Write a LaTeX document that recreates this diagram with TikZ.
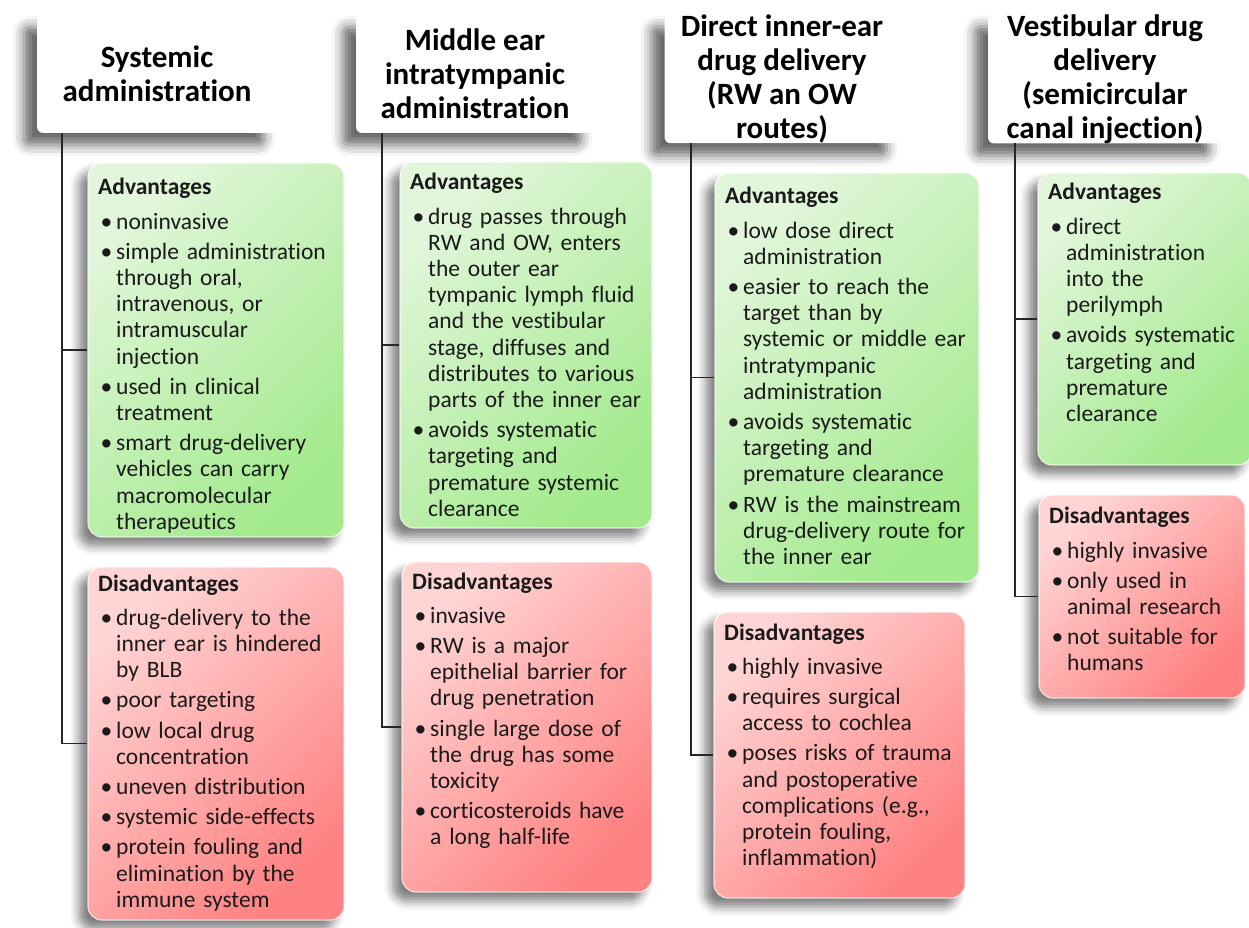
\documentclass[tikz,border=0pt]{standalone}
\usepackage{fontspec}
\setmainfont{Carlito}[Ligatures=NoCommon]
\usetikzlibrary{shadows.blur}

\definecolor{gA}{HTML}{E1F6DA}
\definecolor{gB}{HTML}{A3EA8D}
\definecolor{rA}{HTML}{FFD4D4}
\definecolor{rB}{HTML}{FF8282}
\definecolor{ink}{HTML}{1A1A1A}

% one bulleted entry, every line indented past the bullet
\newcommand{\itm}[1]{\par\vspace{4pt}{\leftskip=18pt\noindent\llap{\makebox[18pt][l]{\hspace{2.5pt}\textbullet}}#1\par}}
\newcommand{\boxtitle}[1]{\textbf{#1}\par\vspace{4pt}}

\begin{document}
\begin{tikzpicture}[x=1pt,y=1pt,
  softshadow/.style={blur shadow={shadow xshift=-9pt, shadow yshift=-9pt,
      shadow blur radius=9pt, shadow opacity=50}},
  hdrshadow/.style={blur shadow={shadow xshift=-13pt, shadow yshift=-12pt,
      shadow blur radius=11pt, shadow opacity=60}},
  hdr/.style={fill=white, rounded corners=6pt, inner sep=0pt, align=center,
      font=\bfseries\fontsize{31}{34}\selectfont, text=black, hdrshadow},
  panel/.style={inner sep=0pt, rounded corners=14pt, draw=white, draw opacity=0.7,
      line width=1.2pt, softshadow},
  gbox/.style={panel, top color=gA, bottom color=gB, shading angle=45},
  rbox/.style={panel, top color=rA, bottom color=rB, shading angle=45},
  txt/.style={anchor=base west, inner sep=0pt, text width=300pt, align=left,
      font=\fontsize{23.5}{26.2}\selectfont, text=ink},
  conn/.style={draw=black!85, line width=1.3pt}]

\useasboundingbox (0,0) rectangle (1249,927);

% column headers
\node[hdr, minimum width=240, minimum height=118] (h1) at (157,853)
  {Systemic\\administration};
\node[hdr, minimum width=238, minimum height=118] (h2) at (475,853)
  {Middle ear\\intratympanic\\administration};
\node[hdr, minimum width=235, minimum height=128] (h3) at (782,848)
  {Direct inner-ear\\drug delivery\\(RW an OW\\routes)};
\node[hdr, minimum width=234, minimum height=128] (h4) at (1105,848)
  {Vestibular drug\\delivery\\(semicircular\\canal injection)};

% advantage / disadvantage panels
\node[gbox, minimum width=256, minimum height=374] (g1) at (216,577) {};
\node[rbox, minimum width=256, minimum height=353] (r1) at (216,183.5) {};
\node[gbox, minimum width=252, minimum height=366] (g2) at (526,582) {};
\node[rbox, minimum width=250, minimum height=330] (r2) at (527,200) {};
\node[gbox, minimum width=264, minimum height=409] (g3) at (847,549.5) {};
\node[rbox, minimum width=251, minimum height=286] (r3) at (839.5,172) {};
\node[gbox, minimum width=214, minimum height=292] (g4) at (1145,608) {};
\node[rbox, minimum width=206, minimum height=203] (r4) at (1142,330.5) {};

% connectors
\coordinate (v1) at (62,794);
\coordinate (v2) at (382,794);
\coordinate (v3) at (691,784);
\coordinate (v4) at (1015,784);
\draw[conn] (v1) |- (g1.west);
\draw[conn] (v1) |- (r1.west);
\draw[conn] (v2) |- (g2.west);
\draw[conn] (v2) |- (r2.west);
\draw[conn] (v3) |- (g3.west);
\draw[conn] (v3) |- (r3.west);
\draw[conn] (v4) |- (g4.west);
\draw[conn] (v4) |- (r4.west);

% panel texts
\node[txt] (g1t) at (98,732) {\boxtitle{Advantages}%
  \itm{noninvasive}%
  \itm{simple administration\\through oral,\\intravenous, or\\intramuscular\\injection}%
  \itm{used in clinical\\treatment}%
  \itm{smart drug-delivery\\vehicles can carry\\macromolecular\\therapeutics}};
\node[txt] (r1t) at (98,336) {\boxtitle{Disadvantages}%
  \itm{drug-delivery to the\\inner ear is hindered\\by BLB}%
  \itm{poor targeting}%
  \itm{low local drug\\concentration}%
  \itm{uneven distribution}%
  \itm{systemic side-effects}%
  \itm{protein fouling and\\elimination by the\\immune system}};
\node[txt] (g2t) at (410,737) {\boxtitle{Advantages}%
  \itm{drug passes through\\RW and OW, enters\\the outer ear\\tympanic lymph fluid\\and the vestibular\\stage, diffuses and\\distributes to various\\parts of the inner ear}%
  \itm{avoids systematic\\targeting and\\premature systemic\\clearance}};
\node[txt] (r2t) at (412,338) {\boxtitle{Disadvantages}%
  \itm{invasive}%
  \itm{RW is a major\\epithelial barrier for\\drug penetration}%
  \itm{single large dose of\\the drug has some\\toxicity}%
  \itm{corticosteroids have\\a long half-life}};
\node[txt] (g3t) at (725,723) {\boxtitle{Advantages}%
  \itm{low dose direct\\administration}%
  \itm{easier to reach the\\target than by\\systemic or middle ear\\intratympanic\\administration}%
  \itm{avoids systematic\\targeting and\\premature clearance}%
  \itm{RW is the mainstream\\drug-delivery route for\\the inner ear}};
\node[txt] (r3t) at (724,287) {\boxtitle{Disadvantages}%
  \itm{highly invasive}%
  \itm{requires surgical\\access to cochlea}%
  \itm{poses risks of trauma\\and postoperative\\complications (e.g.,\\protein fouling,\\inflammation)}};
\node[txt] (g4t) at (1048,727) {\boxtitle{Advantages}%
  \itm{direct\\administration\\into the\\perilymph}%
  \itm{avoids systematic\\targeting and\\premature\\clearance}};
\node[txt] (r4t) at (1049,403) {\boxtitle{Disadvantages}%
  \itm{highly invasive}%
  \itm{only used in\\animal research}%
  \itm{not suitable for\\humans}};

\end{tikzpicture}
\end{document}
